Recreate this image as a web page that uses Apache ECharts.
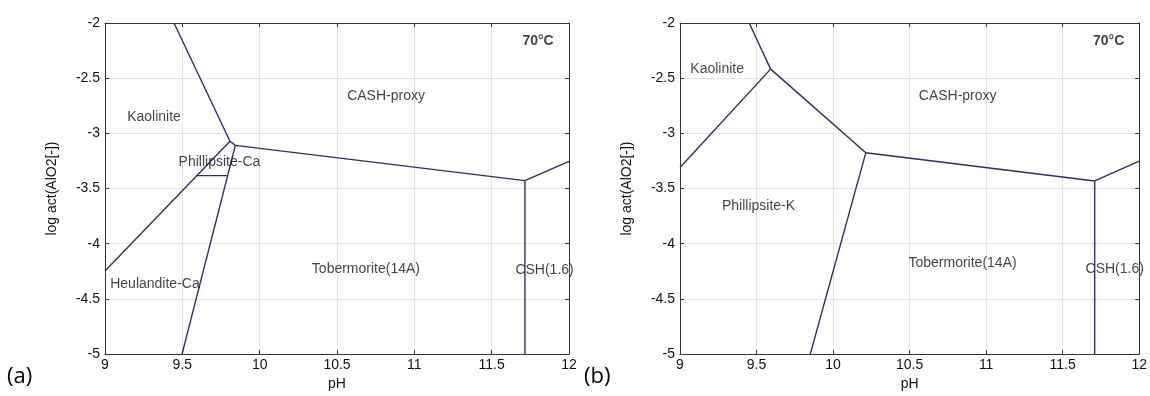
<!DOCTYPE html>
<html>
<head>
<meta charset="utf-8">
<script src="https://cdn.jsdelivr.net/npm/echarts@6/dist/echarts.min.js"></script>
<style>
html,body{margin:0;padding:0;background:#fff;}
#c{width:1150px;height:396px;}
</style>
</head>
<body>
<div id="c"></div>
<script>
// ---- Data (pH, log act(AlO2[-])) ----
const xRange = [9, 12];
const yRange = [-5, -2];
const tickStep = 0.5;

// Panel (a) phase boundaries, each a polyline of [pH, logAct]
const boundariesA = [
  [[9.446, -2], [9.808, -3.072], [9.843, -3.109], [11.715, -3.428], [12, -3.253]],
  [[9.808, -3.072], [9, -4.247]],
  [[9.843, -3.109], [9.498, -5]],
  [[9.594, -3.383], [9.793, -3.383]],
  [[11.715, -3.428], [11.715, -5]]
];
// Panel (b) phase boundaries
const boundariesB = [
  [[9.452, -2], [9.592, -2.418], [10.214, -3.175], [11.709, -3.431], [12, -3.251]],
  [[9.592, -2.418], [9, -3.310]],
  [[10.214, -3.175], [9.851, -5]],
  [[11.709, -3.431], [11.709, -5]]
];
// Region labels (name, pH, logAct)
const labelsA = [
  ['Kaolinite', 9.317, -2.849],
  ['Phillipsite-Ca', 9.740, -3.265],
  ['Heulandite-Ca', 9.323, -4.367],
  ['CASH-proxy', 10.817, -2.666],
  ['Tobermorite(14A)', 10.687, -4.226],
  ['CSH(1.6)', 11.842, -4.238]
];
const labelsB = [
  ['Kaolinite', 9.243, -2.418],
  ['Phillipsite-K', 9.513, -3.662],
  ['CASH-proxy', 10.814, -2.665],
  ['Tobermorite(14A)', 10.846, -4.173],
  ['CSH(1.6)', 11.840, -4.227]
];
const tempLabel = ['70°C', 11.80, -2.16];
const xName = 'pH';
const yName = 'log act(AlO2[-])';
const panelCaptions = ['(a)', '(b)'];

// ---- Chart ----
const FONT = '"Liberation Sans", Arial, Helvetica, sans-serif';
const AXIS_COL = '#333333';
const LINE_COL = '#2e2e62';
const GRID_COL = '#e4e4e4';
const TXT = '#111111';

const grids = [
  {left: 105, top: 23, width: 464, height: 332},
  {left: 680, top: 23, width: 463, height: 333}
];

function xAxes(gi) {
  const base = {
    type: 'value', gridIndex: gi, min: xRange[0], max: xRange[1], interval: tickStep,
    axisLine: {show: true, lineStyle: {color: AXIS_COL, width: 1}},
    axisTick: {show: true, inside: true, length: 4, lineStyle: {color: AXIS_COL}},
  };
  return [
    Object.assign({}, base, {
      position: 'bottom',
      axisLabel: {show: true, color: TXT, fontFamily: FONT, fontSize: 14, margin: 4,
        formatter: v => String(v)},
      splitLine: {show: true, lineStyle: {color: GRID_COL, width: 1}},
      name: xName, nameLocation: 'middle', nameGap: 20,
      nameTextStyle: {color: TXT, fontFamily: FONT, fontSize: 14}
    }),
    Object.assign({}, base, {
      position: 'top', axisLabel: {show: false}, splitLine: {show: false}
    })
  ];
}
function yAxes(gi) {
  const base = {
    type: 'value', gridIndex: gi, min: yRange[0], max: yRange[1], interval: tickStep,
    axisLine: {show: true, lineStyle: {color: AXIS_COL, width: 1}},
    axisTick: {show: true, inside: true, length: 4, lineStyle: {color: AXIS_COL}},
  };
  return [
    Object.assign({}, base, {
      position: 'left',
      axisLabel: {show: true, color: TXT, fontFamily: FONT, fontSize: 14, margin: 5,
        formatter: v => String(v)},
      splitLine: {show: true, lineStyle: {color: GRID_COL, width: 1}},
      name: yName, nameLocation: 'middle', nameGap: 46, nameRotate: 90,
      nameTextStyle: {color: TXT, fontFamily: FONT, fontSize: 14}
    }),
    Object.assign({}, base, {
      position: 'right', axisLabel: {show: false}, splitLine: {show: false}
    })
  ];
}

const series = [];
function addPanel(gi, bounds, labels) {
  bounds.forEach(seg => {
    series.push({
      type: 'line', xAxisIndex: gi * 2, yAxisIndex: gi * 2,
      data: seg, showSymbol: false, symbol: 'none', silent: true,
      lineStyle: {color: LINE_COL, width: 1.4}, z: 3, clip: true
    });
  });
  const all = labels.map(l => ({name: l[0], value: [l[1], l[2]]}))
    .concat([{name: tempLabel[0], value: [tempLabel[1], tempLabel[2]],
      label: {fontWeight: 'bold'}}]);
  series.push({
    type: 'scatter', xAxisIndex: gi * 2, yAxisIndex: gi * 2, silent: true,
    symbolSize: 1, itemStyle: {color: 'rgba(0,0,0,0)'}, z: 4,
    data: all,
    label: {show: true, position: 'inside', formatter: p => p.name,
      color: TXT, fontFamily: FONT, fontSize: 14}
  });
}
addPanel(0, boundariesA, labelsA);
addPanel(1, boundariesB, labelsB);

const chart = echarts.init(document.getElementById('c'), null, {renderer: 'canvas'});
chart.setOption({
  animation: false,
  backgroundColor: '#ffffff',
  grid: grids.map(g => Object.assign({containLabel: false}, g)),
  xAxis: xAxes(0).concat(xAxes(1)),
  yAxis: yAxes(0).concat(yAxes(1)),
  series: series,
  graphic: [
    {type: 'text', left: 7, top: 366, style: {text: panelCaptions[0], font: '22px "Open Sans", "Noto Sans", sans-serif', fill: '#000'}},
    {type: 'text', left: 584, top: 366, style: {text: panelCaptions[1], font: '22px "Open Sans", "Noto Sans", sans-serif', fill: '#000'}}
  ]
});
</script>
</body>
</html>
